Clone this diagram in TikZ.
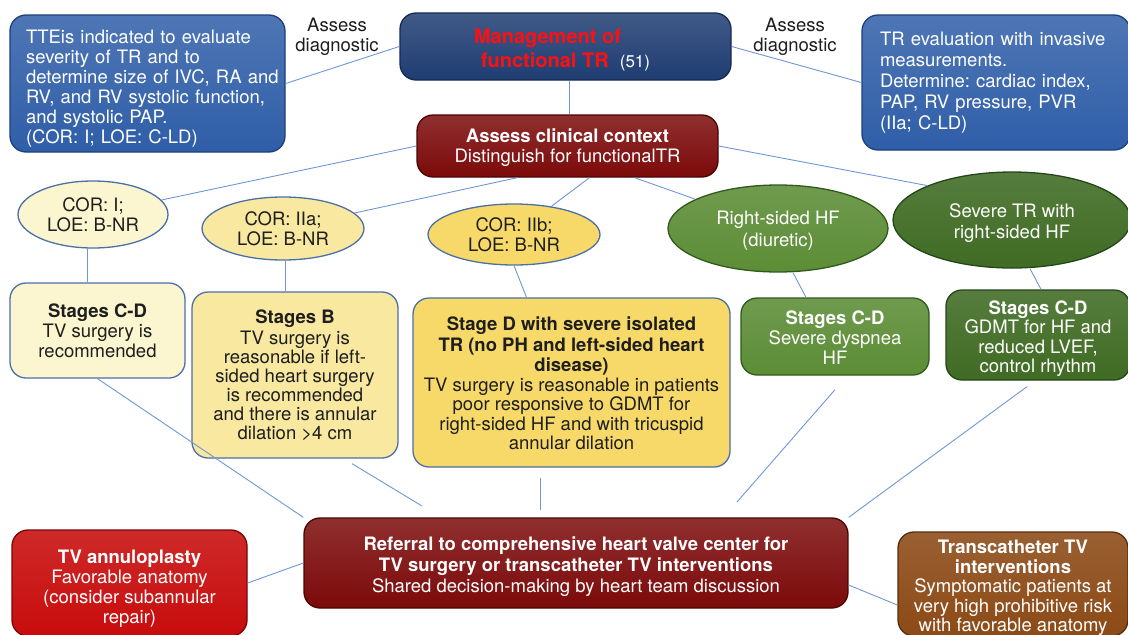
\documentclass[tikz,border=0pt]{standalone}
\usepackage{fontspec}
\setmainfont{TeX Gyre Heros}
\usetikzlibrary{shapes.geometric,calc}
\definecolor{tteblue}{HTML}{2F5EA8}
\definecolor{tteedge}{HTML}{1D3F7C}
\definecolor{navy}{HTML}{1F3D72}
\definecolor{navyedge}{HTML}{142A52}
\definecolor{dred}{HTML}{7C0A0A}
\definecolor{dredge}{HTML}{4A0505}
\definecolor{cream}{HTML}{FBF5D0}
\definecolor{lyellow}{HTML}{F8E8A0}
\definecolor{myellow}{HTML}{F7D96A}
\definecolor{yedge}{HTML}{4C6FA6}
\definecolor{mgreen}{HTML}{5C8D36}
\definecolor{gedge}{HTML}{2F5A1C}
\definecolor{dgreen}{HTML}{3F6B23}
\definecolor{dgedge}{HTML}{25451A}
\definecolor{bred}{HTML}{C80C0C}
\definecolor{bredge}{HTML}{7A0505}
\definecolor{brown}{HTML}{8C4A16}
\definecolor{brownedge}{HTML}{5A2C0A}
\definecolor{linec}{HTML}{7096D8}
\definecolor{titlered}{HTML}{FF1010}
\definecolor{txt}{HTML}{1E1E1E}
\newcommand{\up}[1]{\rule{0pt}{#1pt}}
\begin{document}
\frenchspacing
\begin{tikzpicture}[x=1pt,y=-1pt,
  base/.style={inner sep=0pt, align=center, line width=1.3pt,
    font=\fontsize{18.5}{20}\selectfont},
  rbox/.style={base, rectangle, rounded corners=16pt},
  ell/.style={base, ellipse},
  conn/.style={draw=linec, line width=0.9pt},
  lbl/.style={align=center, text=txt, font=\fontsize{18.5}{20}\selectfont, inner sep=0pt},
  bluebox/.style={rbox, draw=tteedge, top color=tteblue!85!white, bottom color=tteblue, text=white},
  navybox/.style={rbox, draw=navyedge, top color=navy!85!white, bottom color=navy, text=white},
  redbox/.style={rbox, draw=dredge, top color=dred!85!white, bottom color=dred, text=white},
  creambox/.style={rbox, draw=yedge, fill=cream, text=txt},
  lyellowbox/.style={rbox, draw=yedge, fill=lyellow, text=txt},
  yellowbox/.style={rbox, draw=yedge, fill=myellow, text=txt},
  greenbox/.style={rbox, draw=gedge, top color=mgreen!88!white, bottom color=mgreen, text=white},
  dgreenbox/.style={rbox, draw=dgedge, top color=dgreen!88!white, bottom color=dgreen, text=white},
  brightbox/.style={rbox, draw=bredge, top color=bred!88!white, bottom color=bred, text=white},
  brownbox/.style={rbox, draw=brownedge, top color=brown!88!white, bottom color=brown, text=white}
]
\useasboundingbox (0,0) rectangle (1128,635);

% top row
\node[bluebox, minimum width=275pt, minimum height=137pt, text width=243pt, align=left] (tte) at (147.5,83.5)
  {\up{23.5}\mbox{TTEis indicated to evaluate}\\ \mbox{severity of TR and to}\\ \mbox{determine size of IVC, RA and}\\ \mbox{RV, and RV systolic function,}\\ \mbox{and systolic PAP.}\\ \mbox{(COR: I; LOE: C-LD)}};
\node[navybox, minimum width=331pt, minimum height=67pt, font=\fontsize{20}{24}\selectfont] (mgmt) at (565.5,46.5)
  {\up{22.5}\textcolor{titlered}{\bfseries Management of}\rule{36pt}{0pt}\\ \textcolor{titlered}{\bfseries functional TR}\ \ {\fontsize{17}{20}\selectfont (51)}};
\node[lbl] (ad1) at (337,37) {Assess\\ diagnostic};
\node[lbl] (ad2) at (795,37) {Assess\\ diagnostic};
\node[bluebox, minimum width=268pt, minimum height=135pt, text width=232pt, align=left, font=\fontsize{18.5}{21}\selectfont] (tre) at (996,82.5)
  {\mbox{TR evaluation with invasive}\\ \mbox{measurements.}\\ \mbox{Determine: cardiac index,}\\ \mbox{PAP, RV pressure, PVR}\\ \mbox{(IIa; C-LD)}};

\node[redbox, minimum width=301pt, minimum height=62pt] (acc) at (567.5,146)
  {\up{17}{\bfseries Assess clinical context}\\ Distinguish for functionalTR};

% ellipses
\node[ell, draw=yedge, fill=cream, text=txt, minimum width=150pt, minimum height=67pt] (e1) at (93,214.5) {COR: I;\\ LOE: B-NR};
\node[ell, draw=yedge, fill=lyellow, text=txt, minimum width=162pt, minimum height=63pt] (e2) at (283,228.5) {COR: IIa;\\ LOE: B-NR};
\node[ell, draw=yedge, fill=myellow, text=txt, minimum width=172pt, minimum height=61pt] (e3) at (514,234.5) {COR: IIb;\\ LOE: B-NR};
\node[ell, draw=gedge, top color=mgreen!88!white, bottom color=mgreen, text=white, minimum width=220pt, minimum height=87pt, font=\fontsize{18.5}{22}\selectfont] (e4) at (778,228.5) {\up{17}Right-sided HF\\ (diuretic)};
\node[ell, draw=dgedge, top color=dgreen!88!white, bottom color=dgreen, text=white, minimum width=238pt, minimum height=96pt, font=\fontsize{18.5}{21}\selectfont] (e5) at (1012,220) {\up{20}Severe TR with\\ right-sided HF};

% stage boxes
\node[creambox, minimum width=175pt, minimum height=95pt] (s1) at (97.5,330.5)
  {{\bfseries Stages C-D}\\ TV surgery is\\ recommended};
\node[lyellowbox, minimum width=206pt, minimum height=166pt, font=\fontsize{18.5}{19}\selectfont] (s2) at (295,375)
  {{\bfseries Stages B}\\[2pt] TV surgery is\\ reasonable if left-\\ sided heart surgery\\ is recommended\\ and there is annular\\ dilation >4 cm};
\node[yellowbox, minimum width=317pt, minimum height=169pt, font=\fontsize{18.5}{19.5}\selectfont] (s3) at (571.5,382.5)
  {\up{16}{\bfseries Stage D with severe isolated}\\[1pt] {\bfseries TR (no PH and left-sided heart}\\[1pt] {\bfseries disease)}\\ TV surgery is reasonable in patients\\ poor responsive to GDMT for\\ right-sided HF and with tricuspid\\ annular dilation};
\node[greenbox, minimum width=188pt, minimum height=77pt] (s4) at (835,336.5)
  {\up{15.5}{\bfseries Stages C-D}\\ Severe dyspnea\\ HF};
\node[dgreenbox, minimum width=184pt, minimum height=90pt, font=\fontsize{18.5}{19.5}\selectfont] (s5) at (1038,335)
  {\up{21.5}{\bfseries Stages C-D}\\ GDMT for HF and\\ reduced LVEF,\\ control rhythm};

% bottom row
\node[redbox, minimum width=544pt, minimum height=90pt, font=\fontsize{18.5}{21}\selectfont] (ref) at (576,563)
  {\up{21.5}{\bfseries Referral to comprehensive heart valve center for}\\ {\bfseries TV surgery or transcatheter TV interventions}\\ Shared decision-making by heart team discussion};
\node[brightbox, minimum width=235pt, minimum height=106pt] (tva) at (129.5,583)
  {\up{25.5}{\bfseries TV annuloplasty}\\ Favorable anatomy\\ (consider subannular\\ repair)};
\node[brownbox, minimum width=230pt, minimum height=104pt, font=\fontsize{18.5}{19.5}\selectfont] (tct) at (1013,584)
  {\up{21.5}{\bfseries Transcatheter TV}\\ {\bfseries interventions}\\ Symptomatic patients at\\ very high prohibitive risk\\ with favorable anatomy};

% free ends of connectors
\coordinate (g2) at (422,506);
\coordinate (g3) at (540,510);
\coordinate (g4) at (737,502);

% connectors
\draw[conn] (tte.east) -- (mgmt.west);
\draw[conn] (mgmt.east) -- (tre.west);
\draw[conn] ([xshift=4pt]mgmt.south) -- ([xshift=4pt]mgmt.south |- acc.north);
\draw[conn] (acc.west) -- (e1);
\draw[conn] ([xshift=-50pt]acc.south) -- (e2);
\draw[conn] ([xshift=22pt]acc.south) -- (e3);
\draw[conn] ([xshift=67pt]acc.south) -- (e4);
\draw[conn] (acc.east) -- (e5.north west);
\draw[conn] ([xshift=-6pt]e1.south) -- ([xshift=-6pt]e1.south |- s1.north);
\draw[conn] ([xshift=2pt]e2.south) -- ([xshift=2pt]e2.south |- s2.north);
\draw[conn] (e3.south) -- ([xshift=-45pt]s3.north);
\draw[conn] ([xshift=15pt]e4.south) -- ([xshift=-29pt]s4.north);
\draw[conn] ([xshift=18pt]e5.south) -- ([xshift=3pt]s5.north);
\draw[conn] (s1.south) -- (ref.north west);
\draw[conn] ([xshift=57pt,yshift=-5pt]s2.south) -- (g2);
\draw[conn] ([xshift=-31.5pt,yshift=-10pt]s3.south) -- (g3);
\draw[conn] ([yshift=-14pt]s4.south) -- (g4);
\draw[conn] ([xshift=-11pt,yshift=-6pt]s5.south) -- (ref.north east);
\draw[conn] (ref.west) -- (tva.east);
\draw[conn] ([yshift=-22pt]ref.east) -- ([yshift=-21pt]tct.west);
\end{tikzpicture}
\end{document}
